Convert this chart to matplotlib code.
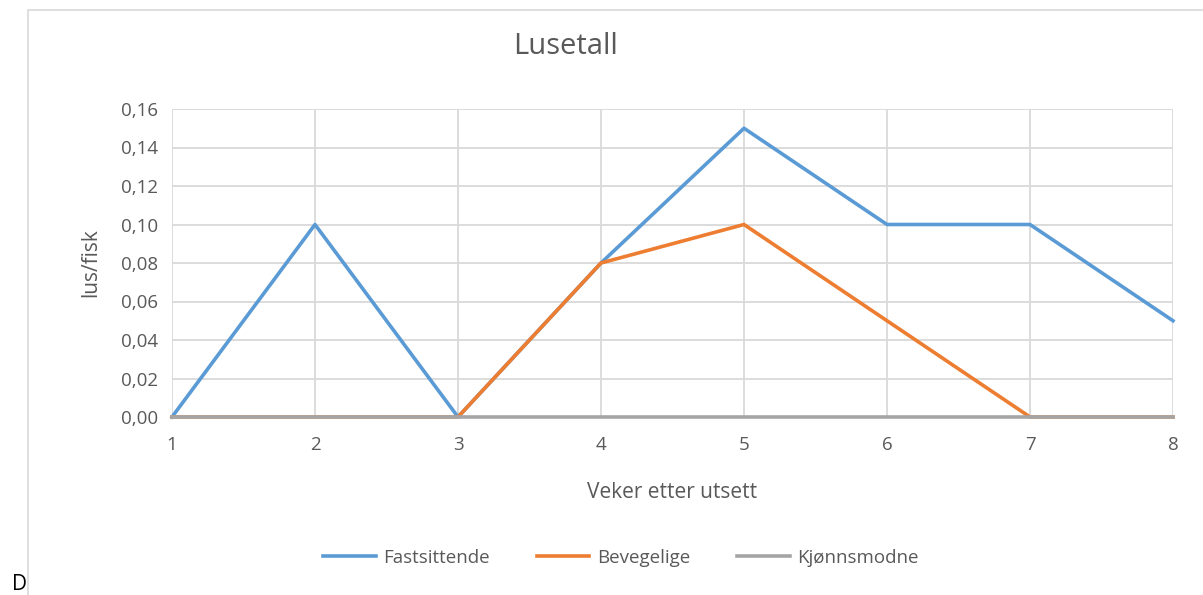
import matplotlib.pyplot as plt
from matplotlib.ticker import FuncFormatter
from matplotlib.patches import Rectangle

# Data
weeks = [1, 2, 3, 4, 5, 6, 7, 8]
fastsittende = [0.00, 0.10, 0.00, 0.08, 0.15, 0.10, 0.10, 0.05]
bevegelige = [0.00, 0.00, 0.00, 0.08, 0.10, 0.05, 0.00, 0.00]
kjonnsmodne = [0, 0, 0, 0, 0, 0, 0, 0]
yticks = [0.00, 0.02, 0.04, 0.06, 0.08, 0.10, 0.12, 0.14, 0.16]

plt.rcParams['font.family'] = ['Open Sans', 'DejaVu Sans']
txt = '#595959'

fig = plt.figure(figsize=(12.03, 5.95), dpi=100)
ax = fig.add_axes([172 / 1203, 1 - 417 / 595, 1001 / 1203, 308 / 595])

# chart border (Excel chart frame)
fig.patches.append(Rectangle((28 / 1203, -0.1), 1.2, 1 - 10 / 595 + 0.1,
                             transform=fig.transFigure, fill=False,
                             edgecolor='#d9d9d9', linewidth=1.2))

ax.plot(weeks, fastsittende, color='#5b9bd5', linewidth=2.6, label='Fastsittende', clip_on=False)
ax.plot(weeks, bevegelige, color='#ed7d31', linewidth=2.6, label='Bevegelige', clip_on=False)
ax.plot(weeks, kjonnsmodne, color='#a5a5a5', linewidth=2.6, label='Kjønnsmodne', clip_on=False)

ax.set_xlim(1, 8)
ax.set_ylim(0, 0.16)
ax.set_xticks(weeks)
ax.set_yticks(yticks)
ax.yaxis.set_major_formatter(FuncFormatter(lambda v, p: f'{v:.2f}'.replace('.', ',')))
ax.grid(True, color='#d9d9d9', linewidth=1.3)
ax.set_axisbelow(True)
for s in ax.spines.values():
    s.set_visible(False)
ax.tick_params(length=0, labelsize=13.5, colors=txt, pad=10)
ax.tick_params(axis='x', pad=14)

ax.set_xlabel('Veker etter utsett', fontsize=15, color=txt, labelpad=20)
ax.set_ylabel('lus/fisk', fontsize=15, color=txt, labelpad=14)
fig.text(565 / 1203, 1 - 47 / 595, 'Lusetall', fontsize=21, color=txt, ha='center', va='center')

ax.legend(loc='center', bbox_to_anchor=(621 / 1203, 1 - 558 / 595), bbox_transform=fig.transFigure,
          ncol=3, frameon=False, fontsize=13.5, labelcolor=txt, handlelength=2.8,
          columnspacing=2.5, handletextpad=0.4)

fig.text(12 / 1203, 1 - 585 / 595, 'D', fontsize=15, color='black', va='center')

fig.savefig('out.png', dpi=100)
